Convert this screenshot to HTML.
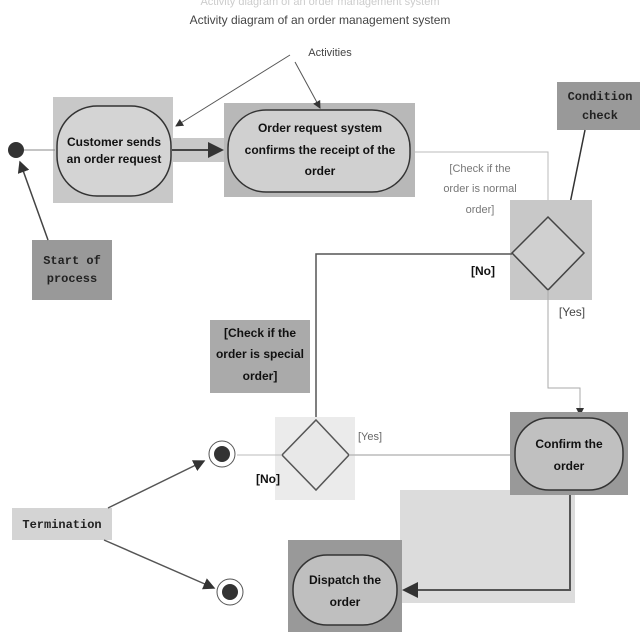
<!DOCTYPE html>
<html><head><meta charset="utf-8"><style>
html,body{margin:0;padding:0;background:#fff;}
svg{display:block;}
text{font-family:"Liberation Sans",sans-serif;}
.b{font-weight:bold;font-size:12px;fill:#111;}
.m{font-family:"Liberation Mono",monospace;font-weight:bold;font-size:12px;fill:#222;}
</style></head><body>
<svg width="640" height="640" viewBox="0 0 640 640" xmlns="http://www.w3.org/2000/svg">
<defs><marker id="a" markerWidth="8" markerHeight="8" refX="7" refY="4" orient="auto"><path d="M0,0 L8,4 L0,8 z" fill="#333"/></marker></defs>
<text x="320" y="5" text-anchor="middle" font-size="11" fill="#ccc">Activity diagram of an order management system</text>
<text x="320" y="24" text-anchor="middle" font-size="12" fill="#444">Activity diagram of an order management system</text>
<!-- big light box -->
<rect x="400" y="490" width="175" height="113" fill="#dcdcdc"/>
<!-- box1 -->
<rect x="53" y="97" width="120" height="106" fill="#c8c8c8"/>
<rect x="57" y="106" width="114" height="90" rx="40" fill="#d4d4d4" stroke="#333" stroke-width="1.5"/>
<text class="b" x="114" y="146" text-anchor="middle">Customer sends</text>
<text class="b" x="114" y="163" text-anchor="middle">an order request</text>
<rect x="172" y="138" width="53" height="24" fill="#c8c8c8"/>
<line x1="172" y1="150" x2="222" y2="150" stroke="#444" stroke-width="2" marker-end="url(#a)"/>
<!-- box2 -->
<rect x="224" y="103" width="191" height="94" fill="#b8b8b8"/>
<rect x="228" y="110" width="182" height="82" rx="38" fill="#d0d0d0" stroke="#333" stroke-width="1.5"/>
<text class="b" x="320" y="132" text-anchor="middle">Order request system</text>
<text class="b" x="320" y="154" text-anchor="middle">confirms the receipt of the</text>
<text class="b" x="320" y="175" text-anchor="middle">order</text>
<!-- start -->
<circle cx="16" cy="150" r="8" fill="#333"/>
<line x1="24" y1="150" x2="55" y2="150" stroke="#888" stroke-width="1"/>
<rect x="32" y="240" width="80" height="60" fill="#999"/>
<text class="m" x="72" y="264" text-anchor="middle">Start of</text>
<text class="m" x="72" y="282" text-anchor="middle">process</text>
<line x1="48" y1="240" x2="20" y2="162" stroke="#444" stroke-width="1.5" marker-end="url(#a)"/>
<!-- activities -->
<text x="330" y="56" text-anchor="middle" font-family="Liberation Mono,monospace" font-size="11" fill="#444">Activities</text>
<line x1="290" y1="55" x2="176" y2="126" stroke="#555" stroke-width="1" marker-end="url(#a)"/>
<line x1="295" y1="62" x2="320" y2="108" stroke="#555" stroke-width="1" marker-end="url(#a)"/>
<!-- line to diamond -->
<polyline points="415,152 548,152 548,217" fill="none" stroke="#bbb" stroke-width="1"/>
<text x="480" y="172" text-anchor="middle" font-size="11" fill="#777">[Check if the</text>
<text x="480" y="192" text-anchor="middle" font-size="11" fill="#777">order is normal</text>
<text x="480" y="213" text-anchor="middle" font-size="11" fill="#777">order]</text>
<rect x="557" y="82" width="83" height="48" fill="#999"/>
<text class="m" x="600" y="100" text-anchor="middle">Condition</text>
<text class="m" x="600" y="119" text-anchor="middle">check</text>
<line x1="585" y1="130" x2="565" y2="228" stroke="#333" stroke-width="1.5" marker-end="url(#a)"/>
<rect x="510" y="200" width="82" height="100" fill="#c8c8c8"/>
<polygon points="548,217 584,253 548,290 512,253" fill="#d0d0d0" stroke="#444" stroke-width="1.5"/>
<text class="b" x="483" y="275" text-anchor="middle">[No]</text>
<polyline points="512,254 316,254 316,418" fill="none" stroke="#555" stroke-width="1.5"/>
<text x="572" y="316" text-anchor="middle" font-size="12" fill="#444">[Yes]</text>
<polyline points="548,290 548,388 580,388 580,415" fill="none" stroke="#aaa" stroke-width="1" marker-end="url(#a)"/>
<!-- special -->
<rect x="210" y="320" width="100" height="73" fill="#aaa"/>
<text class="b" x="260" y="337" text-anchor="middle">[Check if the</text>
<text class="b" x="260" y="358" text-anchor="middle">order is special</text>
<text class="b" x="260" y="380" text-anchor="middle">order]</text>
<rect x="275" y="417" width="80" height="83" fill="#ebebeb"/>
<polygon points="316,420 349,455 316,490 282,455" fill="#e8e8e8" stroke="#555" stroke-width="1.5"/>
<text x="370" y="440" text-anchor="middle" font-size="11" fill="#666">[Yes]</text>
<line x1="349" y1="455" x2="512" y2="455" stroke="#bbb" stroke-width="1.5"/>
<text class="b" x="268" y="483" text-anchor="middle">[No]</text>
<line x1="282" y1="455" x2="237" y2="455" stroke="#bbb" stroke-width="1"/>
<!-- confirm -->
<rect x="510" y="412" width="118" height="83" fill="#999"/>
<rect x="515" y="418" width="108" height="72" rx="34" fill="#c0c0c0" stroke="#333" stroke-width="1.5"/>
<text class="b" x="569" y="448" text-anchor="middle">Confirm the</text>
<text class="b" x="569" y="470" text-anchor="middle">order</text>
<polyline points="570,495 570,590 404,590" fill="none" stroke="#555" stroke-width="2" marker-end="url(#a)"/>
<!-- dispatch -->
<rect x="288" y="540" width="114" height="92" fill="#999"/>
<rect x="293" y="555" width="104" height="70" rx="34" fill="#bfbfbf" stroke="#333" stroke-width="1.5"/>
<text class="b" x="345" y="584" text-anchor="middle">Dispatch the</text>
<text class="b" x="345" y="606" text-anchor="middle">order</text>
<!-- ends -->
<circle cx="222" cy="454" r="13" fill="none" stroke="#555" stroke-width="1"/>
<circle cx="222" cy="454" r="8" fill="#333"/>
<circle cx="230" cy="592" r="13" fill="none" stroke="#555" stroke-width="1"/>
<circle cx="230" cy="592" r="8" fill="#333"/>
<rect x="12" y="508" width="100" height="32" fill="#d4d4d4"/>
<text class="m" x="62" y="528" text-anchor="middle" font-weight="normal">Termination</text>
<line x1="108" y1="508" x2="204" y2="461" stroke="#555" stroke-width="1.5" marker-end="url(#a)"/>
<line x1="104" y1="540" x2="214" y2="588" stroke="#555" stroke-width="1.5" marker-end="url(#a)"/>
</svg>
</body></html>
